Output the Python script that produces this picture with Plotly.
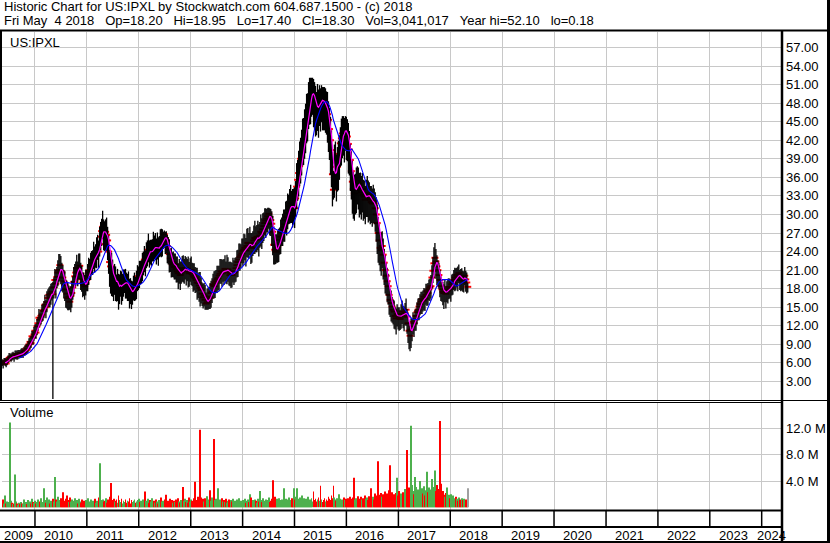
import pandas as pd
import plotly.graph_objects as go

# ---------------- data (weekly bars) ----------------
last_week = "2018-05-04"

close = [
    6.1, 5.8, 6.2,
    6.2, 5.9, 6.4, 6.5, 6.8, 6.9, 7.0, 6.9, 7.1, 7.0,
    7.2, 7.4, 7.1, 7.4, 7.5, 7.3, 7.6, 7.5, 7.6, 7.8,
    8.0, 8.3, 8.1, 8.7, 9.0, 9.4, 9.2, 10.3, 10.1, 10.6,
    11.2, 10.9, 11.9, 12.4, 13.3, 13.0, 13.6, 13.8, 14.4, 14.6,
    15.4, 15.0, 15.8, 16.5, 17.0, 16.6, 17.2, 17.5, 17.1, 18.2,
    19.4, 18.8, 19.9, 20.6, 21.0, 21.8, 20.9, 20.6, 19.8, 19.2,
    18.6, 17.9, 17.2, 16.5, 16.7, 15.9, 16.8, 17.3, 18.2, 19.1,
    20.0, 20.6, 21.3, 20.8, 21.3, 21.7, 20.4, 19.5, 19.0, 18.6,
    18.4, 18.9, 19.4, 20.0, 20.6, 21.0, 21.6, 22.1, 22.6, 23.2,
    22.8, 23.4, 23.7, 24.5, 24.0, 25.2, 26.4, 27.3, 28.0, 27.0,
    26.5, 27.2, 26.7, 25.8, 24.0, 22.3, 21.6, 20.8, 20.5, 19.0,
    20.0, 19.2, 18.5, 19.0, 17.8, 18.3, 19.1, 18.4, 18.4, 18.9,
    19.3, 19.0, 18.6, 18.8, 18.4, 17.8, 17.5, 17.3, 17.6, 18.1,
    18.4, 18.1, 18.9, 19.4, 20.0, 20.5, 20.3, 20.8, 21.4, 22.0,
    22.7, 22.4, 23.1, 23.8, 24.3, 24.0, 23.7, 23.9, 24.4, 24.8,
    24.6, 24.8, 24.3, 24.7, 24.3, 24.9, 25.4, 25.1, 25.6, 26.2,
    26.8, 26.2, 25.7, 24.9, 24.3, 23.6, 22.9, 22.4, 21.9, 22.2,
    21.5, 21.9, 21.2, 20.8, 20.5, 20.8, 20.2, 20.6, 21.3, 21.0,
    21.0, 21.3, 20.9, 21.2, 20.8, 20.5, 20.9, 21.0, 20.4, 20.1,
    19.9, 19.7, 19.4, 19.0, 18.9, 18.5, 18.1, 17.8, 17.2, 16.6,
    16.9, 16.2, 15.6, 15.8, 16.2, 16.7, 16.5, 17.3, 17.5, 18.6,
    18.4, 18.9, 19.2, 19.5, 19.7, 20.1, 20.4, 20.8, 20.5, 20.9,
    20.8, 21.2, 20.6, 21.1, 21.1, 20.7, 20.2, 20.5, 20.2, 20.6,
    20.6, 20.8, 21.3, 21.8, 22.3, 22.7, 23.1, 23.4, 23.7, 24.1,
    24.3, 24.6, 24.2, 24.9, 25.4, 25.0, 25.4, 24.8, 24.6, 25.3,
    25.8, 26.2, 25.9, 26.3, 26.4, 26.0, 26.6, 27.2, 27.0, 27.6,
    28.1, 28.6, 29.0, 29.3, 29.7, 30.1, 29.6, 29.1, 28.5, 27.2,
    25.1, 24.3, 24.0, 24.6, 24.8, 25.3, 25.9, 26.4, 27.1, 27.5,
    28.0, 28.4, 29.1, 29.6, 30.2, 30.8, 31.3, 31.8, 31.2, 30.9,
    31.2, 31.0, 32.6, 34.5, 35.6, 36.7, 37.8, 39.0, 39.9, 41.3,
    42.0, 42.6, 44.1, 45.3, 46.2, 47.4, 48.5, 49.2, 49.6, 50.3,
    48.9, 48.0, 47.2, 46.8, 47.9, 47.4, 48.3, 48.0, 49.1, 48.4,
    48.0, 47.6, 48.0, 47.1, 46.2, 45.3, 43.8, 42.0, 40.4, 36.5,
    34.0, 37.7, 38.4, 36.9, 37.7, 38.5, 39.8, 41.5, 42.3, 43.1,
    43.7, 43.0, 44.1, 43.2, 42.6, 41.4, 40.5, 38.8, 37.0, 35.3,
    34.1, 33.4, 34.0, 34.8, 35.4, 35.0, 34.3, 34.0, 33.6, 34.1,
    33.2, 32.9, 32.4, 33.0, 33.4, 33.1, 32.6, 32.4, 32.0, 31.8,
    32.2, 31.8, 31.0, 30.0, 28.6, 27.0, 25.8, 24.6, 24.3, 24.9,
    23.5, 22.2, 21.0, 20.1, 19.2, 18.4, 17.0, 16.2, 15.7, 15.1,
    14.6, 14.3, 13.6, 13.2, 13.9, 13.8, 13.4, 13.1, 13.9, 14.3,
    13.8, 13.5, 14.1, 14.6, 13.5, 12.4, 11.2, 10.4, 11.4, 11.9,
    12.6, 12.4, 13.0, 13.6, 14.2, 14.6, 15.1, 15.5, 15.9, 16.3,
    16.1, 16.7, 16.4, 17.0, 17.6, 17.3, 17.9, 18.2, 18.4, 19.8,
    20.9, 22.1, 23.0, 22.4, 21.6, 21.0, 20.2, 19.4, 18.4, 17.9,
    17.5, 17.3, 17.8, 17.2, 17.6, 17.8, 18.3, 18.0, 18.1, 18.7,
    19.0, 19.4, 19.8, 19.5, 20.2, 20.0, 20.5, 19.8, 19.4, 19.9,
    19.3, 19.6, 20.1, 19.5, 19.0, 18.3,
]

# weekly high above close
up = [
    .5, .7, .6,
    .6, .8, .5, .7, .8, .6, .5, .8, .7, .6,
    .8, .6, .9, .7, .6, .8, .7, .9, .6, .8,
    .8, .7, 1.0, .8, 1.0, .7, 1.2, .9, 1.0, 1.2,
    1.0, 1.4, 1.2, 1.0, 1.4, 1.2, 1.0, 1.6, 1.2, 1.4,
    1.6, 1.2, 1.8, 1.4, 1.2, 1.8, 1.6, 1.4, 2.0, 1.6,
    1.8, 2.2, 1.6, 2.0, 2.6, 1.8, 2.4, 1.6, 2.0, 1.8,
    2.2, 1.6, 2.0, 2.4, 1.8, 2.2, 1.6, 2.0, 1.8, 2.4,
    2.0, 1.8, 2.2, 1.6, 2.4, 2.0, 1.8, 2.2, 1.6, 2.0,
    1.8, 2.2, 1.6, 2.0, 2.4, 1.8, 2.2, 2.0, 1.6, 2.4,
    2.0, 1.8, 2.6, 2.2, 1.8, 2.8, 2.4, 2.0, 2.6, 2.2,
    2.4, 2.0, 2.8, 2.2, 2.6, 2.0, 2.4, 3.0, 2.2, 2.6,
    2.0, 2.4, 1.8, 2.2, 2.6, 2.0, 1.8, 2.4, 2.0, 2.2,
    1.8, 2.2, 2.0, 1.6, 2.4, 1.8, 2.2, 2.0, 1.6, 2.0,
    2.2, 1.8, 2.0, 2.4, 1.6, 2.0, 2.2, 1.8, 2.4, 2.0,
    2.2, 1.8, 2.4, 2.0, 2.6, 1.8, 2.2, 2.0, 1.6, 2.4,
    2.0, 2.2, 1.8, 2.4, 2.0, 1.6, 2.2, 2.6, 2.0, 1.0,
    0.6, 1.0, 1.6, 1.8, 2.0, 2.4, 1.6, 2.2, 2.0, 1.8,
    2.2, 1.8, 2.0, 2.4, 1.6, 2.0, 2.2, 1.8, 2.0, 2.4,
    1.8, 2.0, 2.2, 1.6, 2.4, 1.8, 2.0, 2.2, 1.8, 2.0,
    2.2, 1.8, 2.0, 2.4, 1.6, 2.2, 2.6, 2.0, 1.8, 2.2,
    2.0, 2.4, 1.8, 2.2, 2.0, 1.6, 2.4, 2.0, 2.2, 1.8,
    2.4, 2.0, 1.8, 2.2, 2.0, 1.6, 2.4, 2.0, 2.2, 1.8,
    2.0, 2.2, 1.8, 2.4, 2.0, 1.6, 2.2, 1.8, 2.0, 2.4,
    2.0, 2.2, 1.8, 2.4, 2.0, 2.6, 2.2, 1.8, 2.4, 2.0,
    2.6, 2.2, 2.0, 2.8, 2.4, 2.0, 2.6, 2.2, 2.4, 2.0,
    2.4, 2.8, 2.2, 2.0, 2.6, 2.4, 2.2, 2.8, 2.4, 2.6,
    2.2, 2.4, 2.0, 1.6, 1.4, 1.0, 1.4, 1.8, 2.0, 2.6,
    3.0, 2.4, 2.8, 2.2, 2.6, 2.4, 2.0, 2.8, 2.4, 2.6,
    2.8, 2.4, 3.0, 2.6, 3.2, 2.4, 2.8, 3.0, 2.6, 3.2,
    3.0, 3.4, 2.8, 3.8, 3.2, 3.6, 4.0, 3.4, 3.8, 4.2,
    3.6, 4.4, 3.8, 4.2, 3.4, 4.0, 3.6, 2.9, 2.5, 1.8,
    3.0, 3.4, 3.6, 3.0, 3.2, 2.8, 2.6, 2.4, 1.8, 2.2,
    2.6, 3.0, 2.4, 2.8, 3.6, 3.0, 3.4, 3.8, 3.2, 3.6,
    3.0, 3.6, 3.4, 2.8, 3.2, 3.4, 3.0, 2.6, 3.2, 2.8,
    2.2, 2.6, 1.8, 2.6, 2.8, 3.4, 3.0, 2.6, 3.2, 3.4,
    2.8, 3.0, 2.6, 2.8, 2.4, 2.6, 2.4, 2.8, 2.6, 2.6,
    2.4, 2.6, 2.2, 2.6, 2.8, 2.4, 2.6, 2.2, 2.6, 2.4,
    2.6, 2.4, 2.6, 2.8, 3.0, 2.6, 2.6, 2.2, 2.8, 2.4,
    2.6, 2.2, 2.4, 2.0, 2.2, 2.0, 2.0, 1.8, 2.0, 1.6,
    1.6, 1.8, 1.4, 1.6, 1.6, 1.2, 1.6, 1.4, 1.6, 1.8,
    1.4, 1.6, 1.6, 1.8, 1.2, 1.6, 1.4, 1.6, 1.8, 1.2,
    1.6, 1.4, 1.6, 1.2, 1.6, 1.8, 1.4, 1.6, 1.6, 1.2,
    1.6, 1.4, 1.6, 1.8, 1.2, 1.6, 1.6, 1.4, 1.8, 2.0,
    2.2, 2.6, 2.4, 2.0, 1.8, 1.6, 2.0, 1.6, 1.6, 1.2,
    1.6, 1.4, 1.6, 1.2, 1.6, 1.8, 1.4, 1.6, 1.2, 1.6,
    1.4, 1.6, 1.6, 1.8, 1.2, 1.6, 1.4, 1.2, 1.8, 1.4,
    1.6, 1.2, 1.4, 1.4, 1.6, .65,
]

# weekly low below close
dn = [
    .6, .7, .5,
    .7, .6, .8, .5, .6, .6, .8, .5, .6, .8,
    .6, .8, .6, .8, .6, .5, .8, .6, .8, .6,
    .8, 1.0, .6, 1.0, .8, 1.2, .8, 1.0, 1.2, 1.0,
    1.2, 1.0, 1.4, 1.2, 1.6, 1.0, 1.4, 1.2, 1.6, 1.4,
    1.4, 1.8, 1.6, 1.2, 2.0, 1.6, 1.8, 1.4, 16.92, 1.8,
    2.0, 2.4, 1.8, 2.2, 2.0, 2.6, 2.2, 3.0, 2.4, 2.8,
    2.6, 3.0, 2.4, 2.0, 2.2, 1.3, 2.6, 2.4, 2.0, 2.2,
    1.8, 2.2, 2.0, 2.4, 1.8, 2.2, 2.6, 2.0, 2.4, 1.8,
    2.2, 2.0, 1.8, 2.4, 2.0, 1.6, 2.2, 1.8, 2.4, 2.0,
    2.2, 2.0, 2.4, 1.8, 2.6, 2.0, 2.2, 2.4, 2.0, 2.8,
    2.4, 3.0, 2.6, 3.2, 3.6, 4.0, 4.4, 4.0, 3.8, 3.0,
    3.0, 3.2, 2.6, 3.0, 3.2, 2.8, 2.4, 3.0, 2.4, 2.2,
    2.0, 2.6, 2.2, 2.8, 2.4, 3.0, 2.0, 2.6, 2.2, 2.0,
    2.4, 2.0, 2.6, 1.8, 2.2, 2.4, 1.6, 2.0, 2.2, 1.8,
    2.0, 2.4, 1.8, 2.2, 2.0, 2.6, 1.8, 2.2, 2.0, 2.4,
    1.8, 2.2, 2.4, 2.0, 2.6, 1.8, 2.2, 2.0, 2.4, 1.8,
    2.2, 2.6, 2.0, 2.8, 2.4, 3.0, 2.2, 2.6, 2.0, 2.4,
    2.0, 2.4, 2.2, 1.8, 2.6, 2.0, 2.4, 1.8, 2.2, 2.0,
    2.2, 1.8, 2.4, 2.0, 2.6, 2.2, 1.8, 2.4, 2.0, 2.6,
    2.2, 2.4, 2.0, 2.8, 2.4, 2.6, 3.0, 2.2, 2.0, 1.8,
    1.8, 1.6, 1.0, 1.2, 1.6, 2.0, 1.8, 2.4, 1.8, 2.2,
    2.0, 2.4, 1.8, 2.2, 2.0, 2.4, 1.6, 2.0, 2.2, 1.8,
    2.2, 2.0, 1.8, 2.4, 2.0, 2.2, 1.8, 2.4, 2.0, 1.6,
    2.0, 1.8, 2.2, 2.0, 2.4, 1.8, 2.2, 2.0, 1.6, 2.4,
    2.2, 2.0, 2.6, 1.8, 2.4, 2.2, 2.0, 2.8, 2.4, 2.0,
    2.2, 2.6, 2.0, 2.4, 2.2, 2.8, 2.0, 2.4, 2.6, 2.2,
    2.4, 2.0, 2.8, 2.2, 2.6, 2.4, 3.0, 2.6, 3.6, 3.8,
    3.2, 2.4, 2.0, 2.4, 2.6, 3.0, 2.4, 2.8, 2.2, 2.6,
    2.4, 2.8, 2.2, 3.0, 2.6, 2.4, 2.8, 3.2, 2.6, 3.0,
    2.8, 3.2, 3.0, 3.6, 3.4, 3.8, 3.2, 4.0, 3.6, 3.4,
    4.0, 3.6, 4.2, 3.8, 4.4, 3.6, 4.0, 4.6, 3.8, 4.2,
    4.8, 4.2, 4.6, 4.0, 4.4, 5.0, 4.0, 4.6, 4.2, 4.8,
    4.4, 4.0, 4.8, 4.2, 4.6, 5.2, 5.0, 5.6, 6.0, 5.2,
    1.6, 5.0, 4.4, 4.8, 4.0, 4.6, 4.2, 3.8, 4.4, 4.0,
    4.2, 4.6, 3.8, 4.4, 4.0, 4.8, 4.2, 5.0, 4.6, 5.2,
    4.8, 4.4, 4.0, 4.6, 3.8, 4.2, 4.8, 4.0, 4.4, 3.8,
    4.2, 3.6, 4.0, 3.4, 3.8, 4.4, 3.6, 4.0, 3.4, 3.8,
    3.6, 3.4, 3.8, 4.4, 5.0, 4.8, 4.0, 3.8, 4.2, 3.6,
    4.0, 3.6, 3.8, 3.2, 3.4, 3.0, 3.2, 2.8, 3.0, 2.6,
    2.4, 2.8, 2.2, 2.6, 2.0, 2.4, 2.2, 1.8, 2.4, 2.0,
    2.2, 2.4, 2.0, 2.6, 2.8, 3.2, 3.0, 2.5, 3.0, 2.4,
    2.0, 2.2, 1.8, 2.4, 2.0, 1.6, 2.2, 1.8, 2.0, 2.4,
    1.8, 2.2, 2.0, 1.6, 2.4, 2.0, 1.8, 2.2, 2.0, 1.8,
    2.0, 2.4, 2.2, 2.8, 3.0, 2.6, 2.2, 2.8, 2.4, 2.0,
    2.2, 2.6, 2.0, 2.4, 1.8, 2.2, 2.0, 1.6, 2.2, 1.8,
    2.0, 1.6, 2.2, 1.8, 2.0, 2.4, 1.6, 2.0, 1.8, 2.2,
    1.8, 2.2, 1.6, 2.0, 1.8, .9,
]

# weekly volume, millions of shares
volume_m = [
    0.8, 1.2, 0.6,
    1.8, 0.6, 0.9, 0.5, 0.8, 12.9, 1.0, 0.7, 0.5, 0.6,
    5.0, 0.9, 0.6, 0.4, 0.7, 0.5, 0.8, 0.6, 0.5, 1.2,
    0.6, 0.8, 0.5, 1.1, 0.7, 0.9, 0.6, 1.3, 0.8, 0.7,
    1.0, 0.6, 0.8, 1.2, 0.7, 0.9, 1.4, 0.6, 0.8, 2.9,
    1.1, 0.7, 1.5, 0.9, 1.2, 0.6, 1.0, 0.8, 1.3, 0.9,
    4.6, 1.2, 0.9, 1.6, 0.8, 1.1, 1.4, 0.7, 2.3, 1.0,
    0.9, 1.3, 1.8, 1.1, 0.8, 1.5, 0.9, 1.2, 0.7, 1.0,
    1.4, 0.8, 1.1, 0.6, 1.3, 0.9, 0.7, 1.2, 0.8, 1.0,
    0.6, 1.1, 0.8, 1.4, 0.7, 0.9, 1.2, 0.6, 1.0, 0.8,
    1.3, 0.7, 1.0, 0.9, 1.5, 6.7, 1.1, 0.8, 1.2, 0.9,
    1.0, 1.4, 0.7, 1.2, 0.9, 1.6, 3.7, 1.1, 0.8, 1.3,
    0.9, 1.0, 1.2, 0.7, 1.8, 1.1, 0.8, 1.3, 0.6, 1.0,
    0.8, 1.2, 0.7, 1.0, 0.9, 1.4, 0.6, 1.1, 0.8, 1.0,
    1.2, 0.7, 0.9, 1.1, 0.6, 1.3, 0.8, 1.0, 0.7, 1.2,
    0.9, 2.4, 1.0, 0.8, 1.3, 0.7, 1.1, 0.9, 1.4, 0.8,
    1.0, 0.7, 1.2, 0.9, 0.6, 1.1, 0.8, 1.5, 0.9, 1.0,
    0.7, 1.2, 1.9, 0.8, 1.0, 0.6, 1.3, 0.9, 1.1, 0.7,
    1.0, 0.8, 1.2, 0.6, 1.4, 0.9, 0.7, 1.1, 0.8, 3.1,
    1.0, 1.3, 0.8, 1.1, 0.7, 1.5, 0.9, 1.2, 1.0, 0.8,
    1.4, 3.9, 1.1, 0.9, 1.6, 1.2, 11.8, 1.5, 1.0, 1.3,
    0.9, 1.4, 1.1, 1.7, 0.8, 1.2, 2.6, 1.0, 1.5, 0.9,
    10.4, 1.1, 1.3, 0.8, 2.9, 1.0, 1.2, 0.7, 1.4, 0.9,
    1.1, 0.8, 1.3, 0.7, 1.0, 1.2, 0.6, 1.1, 0.9, 1.3,
    0.8, 1.0, 0.7, 1.2, 0.9, 1.4, 0.6, 1.0, 0.8, 1.1,
    0.9, 1.3, 0.7, 1.0, 1.2, 0.8, 2.0, 1.5, 0.9, 1.1,
    0.8, 1.2, 1.0, 0.7, 1.3, 0.9, 2.5, 1.1, 0.8, 1.4,
    1.0, 0.9, 1.2, 0.7, 1.1, 1.5, 0.8, 1.0, 1.3, 4.1,
    1.2, 1.6, 0.9, 1.3, 1.0, 1.4, 0.8, 1.1, 1.2, 0.9,
    2.9, 1.0, 1.3, 0.8, 1.2, 1.5, 0.9, 1.1, 1.4, 1.0,
    2.9, 1.2, 1.6, 2.9, 1.3, 1.0, 1.5, 1.2, 1.8, 1.1,
    1.4, 0.9, 1.3, 1.1, 1.6, 0.8, 1.2, 1.0, 1.4, 0.9,
    2.4, 1.1, 1.3, 0.9, 1.2, 1.5, 1.0, 3.3, 1.2, 0.8,
    1.1, 1.4, 0.9, 1.2, 1.0, 1.6, 1.3, 1.1, 1.8, 1.4,
    3.3, 1.5, 1.2, 1.0, 1.4, 1.1, 2.0, 1.3, 0.9, 1.2,
    1.0, 1.5, 1.1, 1.3, 0.9, 1.4, 1.2, 1.6, 1.0, 1.3,
    1.5, 4.5, 1.2, 1.4, 1.0, 1.7, 1.3, 1.1, 1.6, 1.2,
    1.4, 1.0, 1.8, 1.3, 1.5, 1.1, 1.7, 1.2, 2.9, 1.4,
    1.6, 1.2, 2.1, 1.5, 1.8, 7.0, 1.9, 1.4, 2.2, 1.6,
    2.0, 1.7, 2.4, 1.8, 2.1, 1.5, 2.6, 6.4, 1.9, 2.3,
    1.7, 2.0, 1.6, 2.2, 4.5, 1.8, 2.5, 1.9, 2.1, 1.6,
    2.3, 1.9, 2.8, 2.2, 8.7, 2.6, 3.0, 2.1, 12.4, 3.4,
    2.5, 2.0, 4.6, 3.1, 2.2, 2.7, 1.9, 4.0, 2.4, 2.9,
    2.1, 3.2, 1.8, 2.6, 5.4, 2.3, 3.0, 2.0, 2.7, 4.3,
    2.2, 3.1, 5.6, 2.5, 3.4, 2.0, 2.8, 13.1, 3.6, 2.4,
    2.5, 1.9, 1.6, 2.2, 3.0, 1.5, 1.9, 1.4, 2.0, 1.2,
    1.8, 1.4, 1.1, 1.6, 1.3, 1.0, 1.5, 1.2, 0.9, 1.4,
    1.1, 1.3, 0.9, 1.2, 1.0, 2.9,
]

ma_fast_weeks = 4
ma_slow_weeks = 18

grid_years = list(range(2010, 2025))
label_years = list(range(2009, 2025))
x_start, x_end = "2009-05-14", "2024-05-23"

price_ticks = [3, 6, 9, 12, 15, 18, 21, 24, 27, 30, 33, 36, 39, 42, 45, 48, 51, 54, 57]
vol_ticks = [4, 8, 12]
vol_tick_text = ["4.0 M", "8.0 M", "12.0 M"]

SP2 = "\u00a0\u00a0"
SP3 = "\u00a0\u00a0\u00a0"
header_1 = "Historic Chart for US:IPXL by Stockwatch.com 604.687.1500 - (c) 2018"
header_2 = SP3.join(["Fri May" + SP2 + "4 2018", "Op=18.20", "Hi=18.95", "Lo=17.40",
                     "Cl=18.30", "Vol=3,041,017", "Year hi=52.10", "lo=0.18"])
symbol = "US:IPXL"

# ---------------- derived ----------------
n = len(close)
assert len(up) == n and len(dn) == n and len(volume_m) == n, (n, len(up), len(dn), len(volume_m))
dates = pd.date_range(end=last_week, periods=n, freq="7D")
hi = [c + u for c, u in zip(close, up)]
lo = [c - d for c, d in zip(close, dn)]
ma_fast = pd.Series(close).rolling(ma_fast_weeks).mean()
ma_slow = pd.Series(close).rolling(ma_slow_weeks).mean()

GREEN, RED, GREY = "#4DB04D", "#FF0000", "#A0A0A0"
vol_colors = []
for i in range(n):
    if i == n - 1:
        vol_colors.append(GREY)
    elif i > 0 and close[i] < close[i - 1]:
        vol_colors.append(RED)
    else:
        vol_colors.append(GREEN)

stem_x, stem_y = [], []
for d, h, l in zip(dates, hi, lo):
    stem_x += [d, d, None]
    stem_y += [l, h, None]

# ---------------- figure ----------------
W, H = 830, 543
def px(x):
    return x / W
def py(y):
    return 1 - y / H

FONT = "Liberation Sans, Arial, sans-serif"
GRID = "#C8C8C8"

fig = go.Figure()
fig.add_trace(go.Scatter(x=dates, y=close, mode="markers", hoverinfo="skip",
                         marker=dict(symbol="line-ew", size=5, color=RED,
                                     line=dict(color=RED, width=2))))
fig.add_trace(go.Scatter(x=stem_x, y=stem_y, mode="lines", hoverinfo="skip",
                         line=dict(color="black", width=1.3)))
fig.add_trace(go.Scatter(x=dates, y=ma_fast, mode="lines",
                         line=dict(color="#FF00FF", width=1.2)))
fig.add_trace(go.Scatter(x=dates, y=ma_slow, mode="lines",
                         line=dict(color="#0000FF", width=1.1)))
fig.add_trace(go.Bar(x=dates, y=volume_m, marker=dict(color=vol_colors, line=dict(width=0)),
                     width=7 * 86400000 * 0.9, xaxis="x2", yaxis="y2"))

grid_dates = [f"{y}-01-01" for y in grid_years]

xcommon = dict(type="date", range=[x_start, x_end], domain=[px(2), px(782)],
               tickvals=grid_dates, showgrid=True, gridcolor=GRID, gridwidth=1,
               showticklabels=False, ticks="", zeroline=False, showline=False)
fig.update_layout(
    width=W, height=H, margin=dict(l=0, r=0, t=0, b=0),
    paper_bgcolor="white", plot_bgcolor="white", showlegend=False,
    font=dict(family=FONT, size=13, color="black"),
    xaxis=dict(anchor="y", **xcommon),
    xaxis2=dict(anchor="y2", matches="x", **xcommon),
    yaxis=dict(domain=[py(400), py(32)], range=[0, 59.5], side="right", anchor="x",
               tickvals=price_ticks, ticktext=[f"{v:.2f}" for v in price_ticks],
               showgrid=True, gridcolor=GRID, gridwidth=1, zeroline=False, ticks="",
               tickfont=dict(size=13, color="black", family=FONT), ticklabelstandoff=3),
    yaxis2=dict(domain=[py(510), py(402)], range=[-0.4, 16.0], side="right", anchor="x2",
                tickvals=vol_ticks, ticktext=vol_tick_text,
                showgrid=True, gridcolor=GRID, gridwidth=1, zeroline=False, ticks="",
                tickfont=dict(size=13, color="black", family=FONT), ticklabelstandoff=3),
)

shapes = []
def hline(y, x0, x1, w):
    shapes.append(dict(type="line", xref="paper", yref="paper", x0=px(x0), x1=px(x1),
                       y0=py(y), y1=py(y), line=dict(color="black", width=w)))
def vline(x, y0, y1, w):
    shapes.append(dict(type="line", xref="paper", yref="paper", x0=px(x), x1=px(x),
                       y0=py(y0), y1=py(y1), line=dict(color="black", width=w)))

hline(30.5, 0, 830, 2)
hline(400.5, 0, 830, 1)
hline(402.5, 0, 782, 1)
hline(510.5, 0, 782, 2)
hline(527, 0, 782, 2)
hline(542, 0, 830, 2)
vline(1, 31, 400, 2)
vline(782, 31, 543, 2.5)
vline(828.5, 0, 543, 3)
for gd in grid_dates:
    shapes.append(dict(type="line", xref="x", yref="paper", x0=gd, x1=gd,
                       y0=py(510.5), y1=py(527), line=dict(color="black", width=1.5)))
fig.update_layout(shapes=shapes)

ann = [
    dict(text=header_1, x=px(2), y=py(7), xanchor="left", yanchor="middle"),
    dict(text=header_2, x=px(2), y=py(20), xanchor="left", yanchor="middle"),
    dict(text=symbol, x=px(8), y=py(42), xanchor="left", yanchor="middle"),
    dict(text="Volume", x=px(8), y=py(413), xanchor="left", yanchor="middle"),
]
for a in ann:
    a.update(xref="paper", yref="paper", showarrow=False,
             font=dict(family=FONT, size=13, color="black"))

label_shift = pd.Timedelta(days=18)
t_start, t_end = pd.Timestamp(x_start), pd.Timestamp(x_end)
for yr in label_years:
    left = max(pd.Timestamp(f"{yr}-01-01"), t_start)
    right = min(pd.Timestamp(f"{yr + 1}-01-01"), t_end)
    mid = left + (right - left) / 2
    if left != t_start and right != t_end:
        mid = mid - label_shift
    ann.append(dict(text=str(yr), x=mid, xref="x", y=py(535), yref="paper",
                    xanchor="center", yanchor="middle", showarrow=False,
                    font=dict(family=FONT, size=13, color="black")))
fig.update_layout(annotations=ann)

fig.write_html("out.html", config={"displayModeBar": False},
               post_script="document.body.style.margin='0';document.body.style.overflow='hidden';")
